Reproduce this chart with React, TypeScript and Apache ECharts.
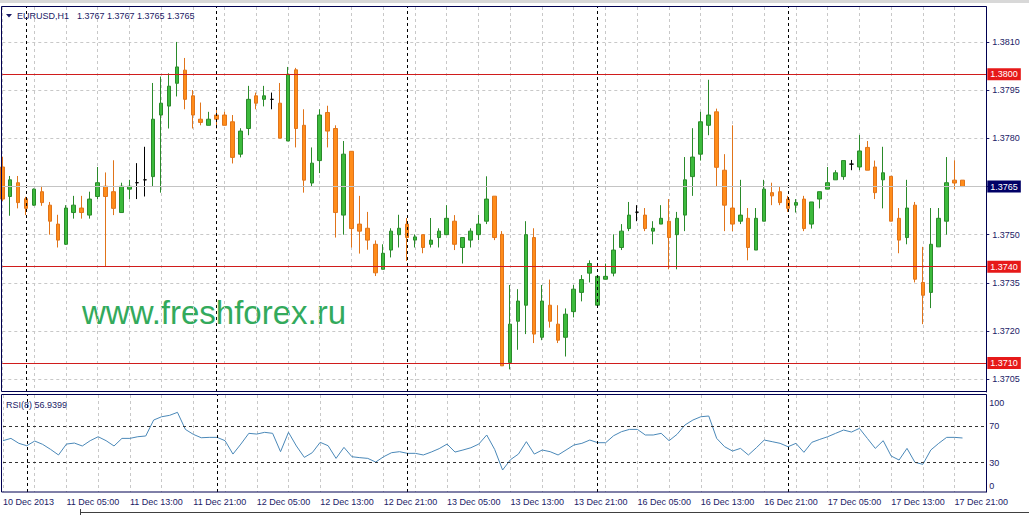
import React, { useEffect, useRef } from 'react';
import * as echarts from 'echarts';

// ---------- data ----------
const days = ['10 Dec', '11 Dec', '12 Dec', '13 Dec', '16 Dec', '17 Dec'];
const dayFirstHour = [21, 0, 0, 0, 0, 0];
const dayLastHour = [23, 23, 23, 23, 23, 24];
const xTickLabels = [
  '10 Dec 2013', '11 Dec 05:00', '11 Dec 13:00', '11 Dec 21:00', '12 Dec 05:00', '12 Dec 13:00',
  '12 Dec 21:00', '13 Dec 05:00', '13 Dec 13:00', '13 Dec 21:00', '16 Dec 05:00', '16 Dec 13:00',
  '16 Dec 21:00', '17 Dec 05:00', '17 Dec 13:00', '17 Dec 21:00',
];
const daySeparators = ['11 Dec 00:00', '12 Dec 00:00', '13 Dec 00:00', '16 Dec 00:00', '17 Dec 00:00'];

const opens = [
  1.37711, 1.37619, 1.37662, 1.37612, 1.37592, 1.37634, 1.37592, 1.37533, 1.37470, 1.37569,
  1.37583, 1.37561, 1.37619, 1.37651, 1.37634, 1.37569, 1.37642, 1.37662, 1.37671, 1.37681,
  1.37873, 1.37901, 1.37972, 1.38013, 1.37933, 1.37860, 1.37841, 1.37873, 1.37873, 1.37852,
  1.37751, 1.37831, 1.37933, 1.37922, 1.37922, 1.37910, 1.37792, 1.38014, 1.37841, 1.37661,
  1.37731, 1.37881, 1.37831, 1.37561, 1.37760, 1.37533, 1.37520, 1.37470, 1.37392, 1.37452,
  1.37500, 1.37533, 1.37483, 1.37500, 1.37470, 1.37491, 1.37500, 1.37542, 1.37460, 1.37483,
  1.37500, 1.37542, 1.37620, 1.37501, 1.37101, 1.37230, 1.37280, 1.37491, 1.37180, 1.37280,
  1.37221, 1.37180, 1.37260, 1.37320, 1.37380, 1.37280, 1.37361, 1.37380, 1.37460, 1.37519,
  1.37570, 1.37561, 1.37511, 1.37533, 1.37542, 1.37500, 1.37561, 1.37681, 1.37751, 1.37841,
  1.37883, 1.37701, 1.37583, 1.37542, 1.37551, 1.37452, 1.37542, 1.37631, 1.37634, 1.37611,
  1.37592, 1.37611, 1.37533, 1.37611, 1.37642, 1.37671, 1.37681, 1.37720, 1.37711, 1.37772,
  1.37711, 1.37671, 1.37682, 1.37551, 1.37491, 1.37592, 1.37351, 1.37320, 1.37462, 1.37542,
  1.37670, 1.37670,
];
const highs = [
  1.37743, 1.37683, 1.37683, 1.37618, 1.37644, 1.37652, 1.37602, 1.37562, 1.37592, 1.37621,
  1.37621, 1.37634, 1.37711, 1.37694, 1.37732, 1.37662, 1.37671, 1.37723, 1.37774, 1.37973,
  1.37993, 1.38003, 1.38101, 1.38051, 1.37951, 1.37912, 1.37883, 1.37893, 1.37883, 1.37873,
  1.37832, 1.37964, 1.37943, 1.37964, 1.37943, 1.37973, 1.38023, 1.38020, 1.37891, 1.37772,
  1.37891, 1.37902, 1.37841, 1.37792, 1.37760, 1.37621, 1.37571, 1.37482, 1.37470, 1.37520,
  1.37562, 1.37552, 1.37501, 1.37500, 1.37552, 1.37520, 1.37592, 1.37561, 1.37491, 1.37520,
  1.37562, 1.37682, 1.37620, 1.37511, 1.37343, 1.37330, 1.37542, 1.37520, 1.37343, 1.37360,
  1.37280, 1.37270, 1.37343, 1.37374, 1.37420, 1.37370, 1.37410, 1.37501, 1.37533, 1.37602,
  1.37592, 1.37583, 1.37542, 1.37592, 1.37611, 1.37571, 1.37742, 1.37832, 1.37883, 1.37983,
  1.37893, 1.37751, 1.37841, 1.37671, 1.37583, 1.37583, 1.37671, 1.37662, 1.37650, 1.37621,
  1.37611, 1.37621, 1.37602, 1.37634, 1.37711, 1.37701, 1.37731, 1.37733, 1.37811, 1.37792,
  1.37731, 1.37774, 1.37682, 1.37583, 1.37671, 1.37602, 1.37462, 1.37583, 1.37583, 1.37742,
  1.37732, 1.37670,
];
const lows = [
  1.37605, 1.37559, 1.37582, 1.37561, 1.37590, 1.37590, 1.37500, 1.37460, 1.37468, 1.37550,
  1.37550, 1.37550, 1.37611, 1.37400, 1.37561, 1.37569, 1.37611, 1.37611, 1.37619, 1.37650,
  1.37631, 1.37831, 1.37931, 1.37891, 1.37831, 1.37841, 1.37841, 1.37831, 1.37841, 1.37722,
  1.37741, 1.37810, 1.37891, 1.37900, 1.37891, 1.37801, 1.37792, 1.37772, 1.37631, 1.37650,
  1.37692, 1.37772, 1.37491, 1.37500, 1.37460, 1.37441, 1.37453, 1.37371, 1.37392, 1.37429,
  1.37460, 1.37418, 1.37460, 1.37442, 1.37460, 1.37460, 1.37500, 1.37452, 1.37410, 1.37460,
  1.37483, 1.37533, 1.37483, 1.37091, 1.37080, 1.37141, 1.37190, 1.37162, 1.37171, 1.37210,
  1.37162, 1.37120, 1.37242, 1.37292, 1.37351, 1.37280, 1.37361, 1.37370, 1.37452, 1.37511,
  1.37542, 1.37511, 1.37470, 1.37533, 1.37392, 1.37392, 1.37511, 1.37621, 1.37731, 1.37810,
  1.37650, 1.37511, 1.37511, 1.37533, 1.37420, 1.37452, 1.37542, 1.37592, 1.37592, 1.37571,
  1.37569, 1.37511, 1.37519, 1.37582, 1.37642, 1.37671, 1.37671, 1.37701, 1.37701, 1.37701,
  1.37611, 1.37582, 1.37542, 1.37442, 1.37470, 1.37351, 1.37221, 1.37271, 1.37462, 1.37500,
  1.37642, 1.37650,
];
const closes = [
  1.37611, 1.37671, 1.37600, 1.37582, 1.37642, 1.37600, 1.37542, 1.37483, 1.37583, 1.37592,
  1.37569, 1.37611, 1.37662, 1.37619, 1.37582, 1.37651, 1.37651, 1.37662, 1.37671, 1.37860,
  1.37910, 1.37963, 1.38023, 1.37922, 1.37873, 1.37850, 1.37860, 1.37860, 1.37841, 1.37741,
  1.37823, 1.37922, 1.37910, 1.37933, 1.37922, 1.37801, 1.38000, 1.37831, 1.37670, 1.37723,
  1.37873, 1.37823, 1.37569, 1.37751, 1.37519, 1.37511, 1.37483, 1.37381, 1.37442, 1.37511,
  1.37520, 1.37491, 1.37493, 1.37460, 1.37483, 1.37511, 1.37551, 1.37470, 1.37491, 1.37511,
  1.37533, 1.37611, 1.37491, 1.37091, 1.37221, 1.37293, 1.37500, 1.37190, 1.37293, 1.37230,
  1.37171, 1.37252, 1.37330, 1.37360, 1.37410, 1.37370, 1.37370, 1.37452, 1.37511, 1.37561,
  1.37570, 1.37519, 1.37520, 1.37551, 1.37491, 1.37551, 1.37671, 1.37742, 1.37852, 1.37873,
  1.37710, 1.37592, 1.37533, 1.37561, 1.37460, 1.37551, 1.37642, 1.37621, 1.37600, 1.37582,
  1.37600, 1.37519, 1.37602, 1.37634, 1.37662, 1.37693, 1.37731, 1.37720, 1.37761, 1.37701,
  1.37631, 1.37693, 1.37542, 1.37483, 1.37583, 1.37361, 1.37311, 1.37470, 1.37551, 1.37662,
  1.37661, 1.37650,
];
const rsiValues = [
  54.0, 56.5, 51.1, 48.5, 53.6, 50.0, 44.5, 38.4, 50.3, 51.4,
  48.2, 54.0, 58.3, 54.0, 48.2, 56.5, 56.5, 58.3, 59.1, 76.5,
  80.1, 81.6, 84.9, 66.3, 60.9, 57.2, 57.6, 57.6, 54.0, 39.4,
  50.3, 62.0, 61.2, 63.1, 62.0, 42.0, 63.1, 48.2, 35.8, 40.9,
  52.2, 48.5, 34.7, 46.7, 36.5, 35.5, 34.7, 30.7, 36.5, 40.9,
  42.0, 40.2, 40.2, 38.4, 41.6, 45.3, 50.3, 41.6, 43.8, 46.3,
  50.3, 60.2, 44.5, 22.0, 33.3, 39.4, 52.9, 39.4, 43.8, 42.0,
  38.4, 43.8, 49.3, 51.1, 54.7, 51.8, 51.8, 59.4, 63.8, 66.3,
  66.3, 60.2, 60.2, 62.0, 54.0, 60.9, 71.1, 76.5, 80.1, 80.9,
  56.5, 47.4, 42.7, 45.6, 38.4, 46.3, 54.7, 52.9, 51.1, 47.4,
  51.1, 41.3, 52.2, 55.4, 58.3, 62.0, 65.6, 63.4, 67.4, 56.5,
  45.6, 54.0, 37.3, 32.9, 45.6, 30.4, 28.2, 43.8, 51.1, 57.6,
  57.6, 56.94,
];
const priceTicks = [1.3705, 1.372, 1.3735, 1.375, 1.3765, 1.378, 1.3795, 1.381];
const rsiTicks = [0, 30, 70, 100];
const rsiLevels = [30, 70];
const levelLines = [1.38, 1.374, 1.371];
const bidPrice = 1.3765;
const titleSymbol = 'EURUSD,H1';
const titleQuote = '1.3767 1.3767 1.3765 1.3765';
const rsiTitle = 'RSI(8) 56.9399';
const watermark = 'www.freshforex.ru';

// ---------- build categories ----------
const pad2 = (n: number) => (n < 10 ? '0' + n : '' + n);
const categories: string[] = [];
days.forEach((d, k) => {
  for (let h = dayFirstHour[k]; h <= dayLastHour[k]; h++) categories.push(d + ' ' + pad2(h % 24) + ':00' + (h >= 24 ? '+' : ''));
});
categories.push('pad');

const FONT = '"Liberation Sans", Arial, sans-serif';
const NAVY = '#1a1a66';
const FRAME = '#000050';
const GRID = '#c8c8c8';
const GREEN = '#3cba3c';
const GREEN_B = '#2a8a2a';
const ORANGE = '#ff8c1a';
const ORANGE_B = '#e0741a';
const RED_LINE = '#d01c1c';
const RED_BOX = '#e61919';

export default function App() {
  const ref = useRef<HTMLDivElement>(null);
  useEffect(() => {
    if (!ref.current) return;
    const chart = echarts.init(ref.current, null, { renderer: 'svg' });

    const candleData = opens.map((o, i) => {
      const item: any = { value: [o, closes[i], lows[i], highs[i]] };
      if (o === closes[i]) item.itemStyle = { borderColor: '#000', borderColor0: '#000', color: '#000', color0: '#000' };
      return item;
    });

    const dashedGrid = { color: GRID, type: [3, 3] as any, width: 1 };
    const sepLine = () =>
      daySeparators.map((c) => ({
        xAxis: c,
        lineStyle: { color: '#000', type: [3, 3] as any, width: 1 },
        label: { show: false },
      }));
    const boxLabel = (txt: string, bg: string) => ({
      show: true, position: 'end', distance: 1, formatter: () => txt,
      backgroundColor: bg, color: '#fff', padding: [2, 3, 1, 3], fontFamily: FONT, fontSize: 9,
    });

    const option: any = {
      animation: false,
      backgroundColor: '#ffffff',
      grid: [
        { left: 2.3, width: 984, top: 7, height: 385 },
        { left: 2.3, width: 984, top: 395, height: 97 },
      ],
      xAxis: [
        {
          type: 'category', gridIndex: 0, data: categories, boundaryGap: false,
          axisLine: { show: false }, axisTick: { show: false }, axisLabel: { show: false },
          splitLine: { show: true, interval: (i: number) => i % 4 === 0, lineStyle: dashedGrid },
        },
        {
          type: 'category', gridIndex: 1, data: categories, boundaryGap: false,
          axisLine: { show: false }, axisTick: { show: false },
          axisLabel: {
            show: true, interval: (i: number) => i % 8 === 0 && i <= 120,
            formatter: (_v: string, i: number) => xTickLabels[i / 8] || '',
            align: 'left', margin: 5, color: NAVY, fontFamily: FONT, fontSize: 9,
          },
          splitLine: { show: true, interval: (i: number) => i % 4 === 0, lineStyle: dashedGrid },
        },
      ],
      yAxis: [
        {
          type: 'value', gridIndex: 0, position: 'right', min: 1.370094, max: 1.382099,
          axisLine: { show: true, lineStyle: { color: FRAME } },
          axisTick: { show: true, length: 3, customValues: priceTicks, lineStyle: { color: NAVY } },
          axisLabel: {
            customValues: priceTicks, formatter: (v: number) => v.toFixed(4),
            margin: 6, color: NAVY, fontFamily: FONT, fontSize: 9,
          },
          splitLine: { show: true, lineStyle: dashedGrid },
        },
        {
          type: 'value', gridIndex: 1, position: 'right', min: -1.96, max: 103.8,
          axisLine: { show: true, lineStyle: { color: FRAME } },
          axisTick: { show: false, customValues: rsiTicks },
          axisLabel: {
            customValues: rsiTicks, formatter: (v: number) => String(v),
            margin: 3, color: NAVY, fontFamily: FONT, fontSize: 9,
            verticalAlignMinLabel: 'bottom', verticalAlignMaxLabel: 'top',
          },
          splitLine: { show: false },
        },
      ],
      series: [
        {
          type: 'line', name: 'levels', xAxisIndex: 0, yAxisIndex: 0, data: [], symbol: 'none', z: 1,
          markLine: {
            silent: true, symbol: ['none', 'none'], animation: false, precision: 6,
            data: [
              ...sepLine(),
              { yAxis: bidPrice, lineStyle: { color: '#c4c4c4', type: 'solid', width: 1 }, label: boxLabel(bidPrice.toFixed(4), '#000066') },
              ...levelLines.map((lv) => ({
                yAxis: lv,
                lineStyle: { color: RED_LINE, type: 'solid', width: 1, opacity: 1 },
                label: boxLabel(lv.toFixed(4), RED_BOX),
              })),
            ],
          },
        },
        {
          type: 'candlestick', xAxisIndex: 0, yAxisIndex: 0, data: candleData, barWidth: 4,
          itemStyle: { color: GREEN, color0: ORANGE, borderColor: GREEN_B, borderColor0: ORANGE_B, borderWidth: 1 },
          z: 3,
        },
        {
          type: 'line', xAxisIndex: 1, yAxisIndex: 1, data: rsiValues, symbol: 'none',
          lineStyle: { color: '#4a88b8', width: 1 }, z: 3,
          markLine: {
            silent: true, symbol: ['none', 'none'], animation: false, precision: 6,
            data: [
              ...sepLine(),
              ...rsiLevels.map((lv) => ({
                yAxis: lv,
                lineStyle: { color: '#333', type: [3, 3], width: 1 },
                label: { show: false },
              })),
            ],
          },
        },
      ],
      graphic: [
        { type: 'rect', shape: { x: 0, y: 0, width: 1029, height: 3 }, style: { fill: '#d8d8d8' }, z: 100 },
        { type: 'rect', shape: { x: 1.5, y: 6.5, width: 985, height: 385 }, style: { fill: 'none', stroke: FRAME, lineWidth: 1 }, z: 100 },
        { type: 'rect', shape: { x: 1.5, y: 394.5, width: 985, height: 97.5 }, style: { fill: 'none', stroke: FRAME, lineWidth: 1 }, z: 100 },
        { type: 'line', shape: { x1: 80.5, y1: 509, x2: 80.5, y2: 515 }, style: { stroke: '#404040', lineWidth: 1 }, z: 100 },
        { type: 'line', shape: { x1: 80, y1: 512.5, x2: 1029, y2: 512.5 }, style: { stroke: '#404040', lineWidth: 1 }, z: 100 },
        { type: 'polygon', shape: { points: [[6, 14], [12, 14], [9, 17.5]] }, style: { fill: NAVY }, z: 100 },
        { type: 'text', x: 17, y: 16, style: { text: titleSymbol, fill: NAVY, font: '9px ' + FONT, verticalAlign: 'middle' }, z: 100 },
        { type: 'text', x: 77, y: 16, style: { text: titleQuote, fill: NAVY, font: '9px ' + FONT, verticalAlign: 'middle' }, z: 100 },
        { type: 'text', x: 6, y: 405, style: { text: rsiTitle, fill: NAVY, font: '9px ' + FONT, verticalAlign: 'middle' }, z: 100 },
        { type: 'text', x: 82, y: 312, style: { text: watermark, fill: '#33aa5c', font: '33px ' + FONT, verticalAlign: 'middle' }, z: 0 },
      ],
    };
    chart.setOption(option);
    return () => chart.dispose();
  }, []);
  return <div ref={ref} style={{ position: 'absolute', left: 0, top: 0, width: 1029, height: 515, background: '#fff' }} />;
}
